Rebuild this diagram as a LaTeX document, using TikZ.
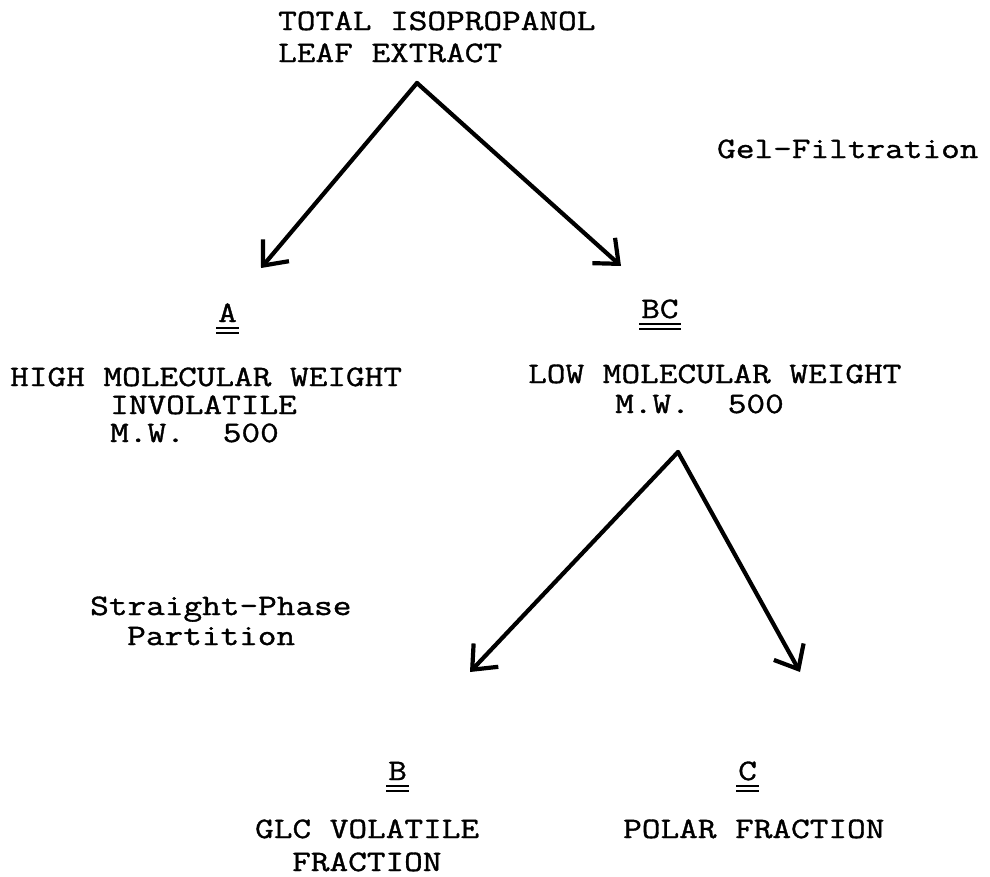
\documentclass[tikz,border=0pt]{standalone}
\usepackage{fontspec}
\setmonofont[FakeStretch=1.22,FakeBold=1.2]{Latin Modern Mono}
\usetikzlibrary{arrows.meta}

\newcommand\dblunder[1]{%
 \draw[line width=2.4pt] ([xshift=-2pt,yshift=-6pt]#1.base west) -- ([xshift=2pt,yshift=-6pt]#1.base east)
  ([xshift=-2pt,yshift=-11pt]#1.base west) -- ([xshift=2pt,yshift=-11pt]#1.base east);}

\begin{document}
\begin{tikzpicture}[x=1pt,y=-1pt,
  txt/.style={font=\ttfamily\fontsize{29.7}{29}\selectfont,inner sep=0pt,anchor=base west},
  flow/.style={line width=4.2pt,line cap=round,-{Straight Barb[length=20pt,width=34pt]}}]

\useasboundingbox (0,0) rectangle (990,876);

% top level
\node[txt] (total) at (278,30) {TOTAL ISOPROPANOL};
\node[txt] (leaf) at (278,62) {LEAF EXTRACT};
\node[txt] (gel) at (717,158) {Gel-Filtration};
\coordinate (top) at (417,83);
\coordinate (tipA) at (261,268);
\coordinate (tipBC) at (621,266);
\draw[flow] (top) -- (tipA);
\draw[flow] (top) -- (tipBC);

% fraction A
\node[txt] (A) at (218,322) {A}; \dblunder{A}
\node[txt] (highmw) at (10,386) {HIGH MOLECULAR WEIGHT};
\node[txt] (invol) at (110,414) {INVOLATILE};
\node[txt] (mwA) at (110,442) {M.W.\hspace{38pt}500};

% fraction BC
\node[txt] (BC) at (641,318) {BC}; \dblunder{BC}
\node[txt] (lowmw) at (528,383) {LOW MOLECULAR WEIGHT};
\node[txt] (mwBC) at (615,413) {M.W.\hspace{38pt}500};

% second split
\node[txt] (straight) at (90,615) {Straight-Phase};
\node[txt] (part) at (127,645) {Partition};
\coordinate (mid) at (678,452);
\coordinate (tipB) at (470,672);
\coordinate (tipC) at (800,672);
\draw[flow] (mid) -- (tipB);
\draw[flow] (mid) -- (tipC);

% fractions B and C
\node[txt] (B) at (388,780) {B}; \dblunder{B}
\node[txt] (C) at (738,780) {C}; \dblunder{C}
\node[txt] (glc) at (255,838) {GLC VOLATILE};
\node[txt] (fracB) at (292,871) {FRACTION};
\node[txt] (polar) at (623,838) {POLAR FRACTION};

\end{tikzpicture}
\end{document}
